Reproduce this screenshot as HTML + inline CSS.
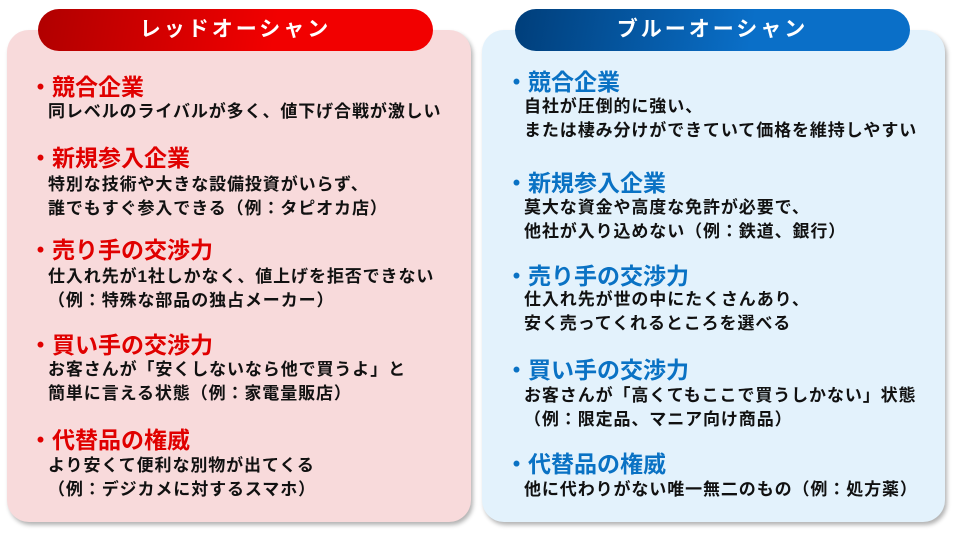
<!DOCTYPE html>
<html><head><meta charset="utf-8"><style>
body{margin:0;width:953px;height:535px;background:#fff;position:relative;overflow:hidden;font-family:"Liberation Sans","Noto Sans CJK JP",sans-serif;font-weight:bold}
.p{position:absolute;border-radius:22px;box-shadow:2px 3px 4px rgba(0,0,0,.3)}
.h{position:absolute;border-radius:21px;height:42px;line-height:42px;text-align:center;color:#fff;font-size:21px;letter-spacing:3px}
.t{position:absolute;white-space:nowrap;line-height:24px}
.hd{font-size:23px}
.b{font-size:17px;letter-spacing:0.9px;color:#111}
.r{color:#e00000}.bl{color:#0a72c4}
</style></head><body>
<div class="p" style="left:7px;top:30px;width:464px;height:492px;background:#f8dadb"></div>
<div class="p" style="left:482px;top:30px;width:463px;height:492px;background:#e3f2fc"></div>
<div class="h" style="left:38px;top:9px;width:395px;background:linear-gradient(100deg,#b00000,#f20000 60%)">レッドオーシャン</div>
<div class="h" style="left:515px;top:9px;width:395px;background:linear-gradient(100deg,#003e7a,#0a6fc8 60%)">ブルーオーシャン</div>

<div class="t hd r" style="left:29px;top:75px">・競合企業</div>
<div class="t b" style="left:48px;top:100px">同レベルのライバルが多く、値下げ合戦が激しい</div>
<div class="t hd r" style="left:29px;top:146px">・新規参入企業</div>
<div class="t b" style="left:48px;top:173px">特別な技術や大きな設備投資がいらず、<br>誰でもすぐ参入できる（例：タピオカ店）</div>
<div class="t hd r" style="left:29px;top:238px">・売り手の交渉力</div>
<div class="t b" style="left:48px;top:265px">仕入れ先が1社しかなく、値上げを拒否できない<br>（例：特殊な部品の独占メーカー）</div>
<div class="t hd r" style="left:29px;top:333px">・買い手の交渉力</div>
<div class="t b" style="left:48px;top:358px">お客さんが「安くしないなら他で買うよ」と<br>簡単に言える状態（例：家電量販店）</div>
<div class="t hd r" style="left:29px;top:428px">・代替品の権威</div>
<div class="t b" style="left:48px;top:454px">より安くて便利な別物が出てくる<br>（例：デジカメに対するスマホ）</div>

<div class="t hd bl" style="left:505px;top:70px">・競合企業</div>
<div class="t b" style="left:524px;top:95px">自社が圧倒的に強い、<br>または棲み分けができていて価格を維持しやすい</div>
<div class="t hd bl" style="left:505px;top:171px">・新規参入企業</div>
<div class="t b" style="left:524px;top:196px">莫大な資金や高度な免許が必要で、<br>他社が入り込めない（例：鉄道、銀行）</div>
<div class="t hd bl" style="left:505px;top:264px">・売り手の交渉力</div>
<div class="t b" style="left:524px;top:288px">仕入れ先が世の中にたくさんあり、<br>安く売ってくれるところを選べる</div>
<div class="t hd bl" style="left:505px;top:358px">・買い手の交渉力</div>
<div class="t b" style="left:524px;top:384px">お客さんが「高くてもここで買うしかない」状態<br>（例：限定品、マニア向け商品）</div>
<div class="t hd bl" style="left:505px;top:452px">・代替品の権威</div>
<div class="t b" style="left:524px;top:478px">他に代わりがない唯一無二のもの（例：処方薬）</div>
</body></html>
